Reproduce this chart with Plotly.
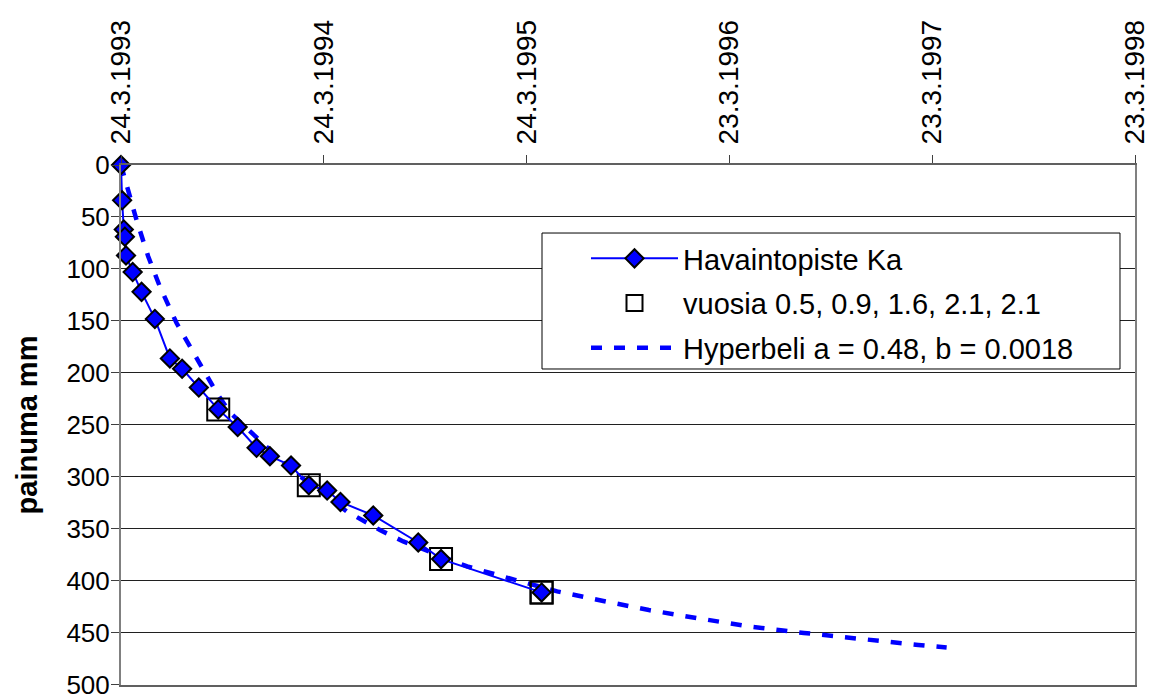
import plotly.graph_objects as go
import pandas as pd

START = "1993-03-24"
TICK_LABELS = ["24.3.1993", "24.3.1994", "24.3.1995", "23.3.1996", "23.3.1997", "23.3.1998"]
Y_TICKS = [0, 50, 100, 150, 200, 250, 300, 350, 400, 450, 500]

# Havaintopiste Ka (days since start, settlement mm)
OBS_DAYS = [0, 2, 5, 7, 9, 21, 37, 61, 88, 110, 140, 175, 210, 244, 268, 306, 338, 371, 395, 454, 535, 576, 757]
OBS_MM = [0, 34, 62, 69, 87, 103, 122, 148, 186, 196, 214, 235, 252, 272, 280, 289, 308, 313, 324, 337, 363, 379, 411]

# vuosia 0.5, 0.9, 1.6, 2.1, 2.1
YEAR_DAYS = [175, 338, 576, 757, 757]
YEAR_MM = [235, 308, 379, 411, 411]

# Hyperbeli a = 0.48, b = 0.0018
HYP_DAYS = [0, 4, 28, 49, 70, 100, 124, 148, 172, 196, 226, 304, 406, 466, 508, 623, 709, 785,
            866, 950, 1040, 1133, 1229, 1331, 1435, 1486]
HYP_MM = [0, 8, 53, 88, 117, 152, 175, 197, 219, 238, 253, 292, 333, 351, 362, 386, 399, 410,
          419, 428, 436, 444, 450, 456, 461.5, 464]

start = pd.Timestamp(START)
def to_dates(days):
    return [start + pd.Timedelta(days=d) for d in days]

tickvals = list(pd.to_datetime(TICK_LABELS, format="%d.%m.%Y"))

FONT = "Arial, Liberation Sans, sans-serif"

fig = go.Figure()

fig.add_trace(go.Scatter(
    x=to_dates(HYP_DAYS), y=HYP_MM, mode="lines",
    name="Hyperbeli a = 0.48, b = 0.0018",
    line=dict(color="#0000FF", width=4.5, dash="11px,12px"),
    legendrank=3, legendgroup="c",
))
fig.add_trace(go.Scatter(
    x=to_dates(YEAR_DAYS), y=YEAR_MM, mode="markers",
    name="vuosia 0.5, 0.9, 1.6, 2.1, 2.1",
    marker=dict(symbol="square-open", size=22, color="#000000", line=dict(width=2, color="#000000")),
    legendrank=2, legendgroup="b", cliponaxis=False,
))
fig.add_trace(go.Scatter(
    x=to_dates(OBS_DAYS), y=OBS_MM, mode="lines+markers",
    name="Havaintopiste Ka",
    line=dict(color="#0000FF", width=2),
    marker=dict(symbol="diamond", size=14, color="#0000FF", line=dict(width=2, color="#000000")),
    legendrank=1, legendgroup="a", cliponaxis=False,
))

# legend frame (layout decoration)
fig.add_shape(type="rect", xref="paper", yref="paper",
              x0=0.4152, x1=0.9852, y0=0.6077, y1=0.8692,
              fillcolor="white", line=dict(color="black", width=1), layer="above")

fig.update_layout(
    width=1153, height=696,
    margin=dict(l=121, r=18, t=165, b=11),
    paper_bgcolor="white", plot_bgcolor="white",
    font=dict(family=FONT, color="black", size=26),
    showlegend=True,
    legend=dict(
        x=(586 - 121) / 1014, y=0.8692, xanchor="left", yanchor="top",
        bgcolor="rgba(0,0,0,0)", borderwidth=0,
        font=dict(family=FONT, size=29, color="black"),
        itemwidth=87, tracegroupgap=4, traceorder="grouped",
    ),
    xaxis=dict(
        type="date", side="top", automargin=False,
        range=[tickvals[0], tickvals[-1]],
        tickmode="array", tickvals=tickvals, ticktext=TICK_LABELS,
        tickangle=-90, ticks="outside", ticklen=8, tickcolor="#404040", tickwidth=1,
        ticklabelstandoff=5, ticklabeloverflow="allow",
        tickfont=dict(family=FONT, size=28, color="black"),
        showgrid=False, zeroline=False,
        showline=True, linecolor="#606060", linewidth=2, mirror=True,
    ),
    yaxis=dict(
        range=[500.05, 0], automargin=False,
        tickmode="array", tickvals=Y_TICKS, ticktext=[str(v) for v in Y_TICKS],
        ticks="outside", ticklen=8, tickcolor="#404040", tickwidth=1,
        ticklabelstandoff=-4, ticklabeloverflow="allow",
        tickfont=dict(family=FONT, size=26, color="black"),
        showgrid=True, gridcolor="#202020", gridwidth=1,
        zeroline=False,
        showline=True, linecolor="#808080", linewidth=2, mirror=True,
        title=dict(text="<b>painuma mm</b>", font=dict(family=FONT, size=29, color="black"), standoff=20),
    ),
)

fig.write_html("out.html", config={"displayModeBar": False},
               post_script="document.body.style.margin='0';document.body.style.overflow='hidden';")
